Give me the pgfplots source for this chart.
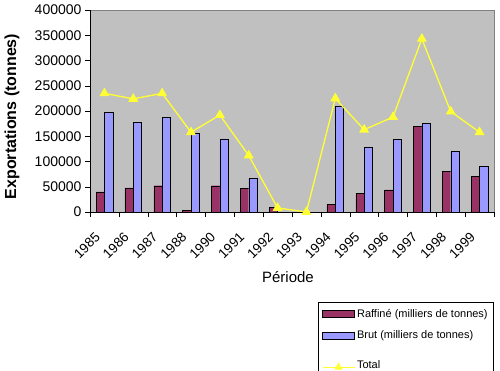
\documentclass[border=0pt]{standalone}
\usepackage{pgfplots}
\pgfplotsset{compat=1.18}
\usepackage{fontspec}
\setmainfont{Liberation Sans}
\definecolor{raffine}{HTML}{993366}
\definecolor{brut}{HTML}{9999FF}
\definecolor{plotbg}{HTML}{C0C0C0}
\definecolor{total}{HTML}{FFFF33}
\begin{document}
\begin{tikzpicture}
\useasboundingbox (0,0) rectangle (500pt,370pt);
\begin{axis}[
  at={(90pt,158pt)}, anchor=south west,
  scale only axis, width=404pt, height=202pt,
  xmin=-0.5, xmax=13.5, ymin=0, ymax=400000,
  clip=false,
  axis x line=bottom, axis y line=left, axis line style={-, black},
  axis background/.style={fill=plotbg, draw=gray},
  xtick={0,...,13},
  xticklabels={1985,1986,1987,1988,1990,1991,1992,1993,1994,1995,1996,1997,1998,1999},
  minor xtick={-0.5,0.5,...,13.5},
  major x tick style={draw=none},
  minor x tick style={black},
  ytick={0,50000,...,400000},
  ytick style={black},
  scaled y ticks=false,
  /pgf/number format/assume math mode=true,
  /pgf/number format/fixed,
  /pgf/number format/precision=0,
  /pgf/number format/1000 sep={},
  tick align=outside, major tick length=5pt, minor tick length=5pt,
  x tick label style={rotate=45, anchor=north east, xshift=-14pt, yshift=0.5pt, font=\fontsize{13.5}{15}\selectfont},
  y tick label style={font=\fontsize{14}{16}\selectfont},
  xlabel={Période},
  xlabel style={at={(axis description cs:0.49,-0.322)}, anchor=center, font=\fontsize{15}{17}\selectfont},
  ylabel={Exportations (tonnes)},
  ylabel style={at={(axis description cs:-0.193,0.473)}, anchor=center, font=\bfseries\fontsize{16}{18}\selectfont},
  legend style={at={(axis description cs:0.564,-0.4455)}, anchor=north west, draw=black, fill=white,
    font=\fontsize{11}{13}\selectfont, row sep=8pt, inner xsep=4pt, inner ysep=5pt},
  legend cell align=left,
]
\addplot[ybar, bar width=0.29, bar shift=-0.145, fill=raffine, draw=black,
  legend image code/.code={\draw[fill=raffine, draw=black] (0pt,-3.5pt) rectangle (32pt,3.5pt);}]
  coordinates {(0,40000)(1,48000)(2,52000)(3,3000)(4,52000)(5,47000)(6,9000)(8,15000)(9,37000)(10,44000)(11,170000)(12,80000)(13,70000)};
\addlegendentry{Raffiné (milliers de tonnes)}
\addplot[ybar, bar width=0.29, bar shift=0.145, fill=brut, draw=black,
  legend image code/.code={\draw[fill=brut, draw=black] (0pt,-3.5pt) rectangle (32pt,3.5pt);}]
  coordinates {(0,198000)(1,177000)(2,187000)(3,156000)(4,145000)(5,66000)(8,210000)(9,129000)(10,144000)(11,175000)(12,120000)(13,90000)};
\addlegendentry{Brut (milliers de tonnes)}
\addplot[sharp plot, color=total, line width=1.3pt, mark=triangle*, mark size=4.5pt, mark options={fill=total, draw=total},
  legend image code/.code={\draw[total, line width=1pt] (0pt,-6pt) -- (32pt,-6pt); \fill[total] (16pt,-6pt) ++(90:3.5pt) -- ++(-120:6.06pt) -- ++(0:6.06pt) -- cycle;}]
  coordinates {(0,235000)(1,224000)(2,235000)(3,158000)(4,192000)(5,112000)(6,8000)(7,0)(8,225000)(9,163000)(10,188000)(11,343000)(12,199000)(13,158000)};
\addlegendentry{\rule[-8.5pt]{0pt}{25pt}Total}
\end{axis}
\end{tikzpicture}
\end{document}
